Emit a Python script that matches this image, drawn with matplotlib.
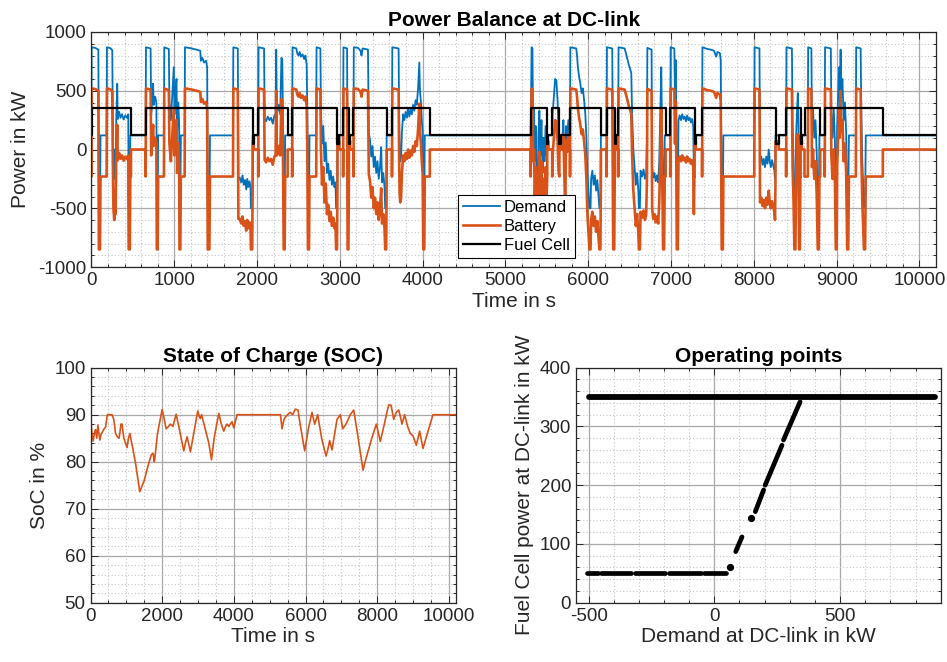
import matplotlib
matplotlib.use('Agg')
import matplotlib.pyplot as plt
from matplotlib.ticker import MultipleLocator

plt.rcParams['font.family'] = ['Liberation Sans', 'DejaVu Sans']
plt.rcParams['axes.unicode_minus'] = False

# ---------------- data: top panel (time s, power kW) ----------------
demand_pts = [
    (0, 120), (3, 870), (45, 865), (84, 850), (90, -500), (104, -500), (110, 120), (184, 120), (188, 870),
    (230, 862), (252, 845), (258, 280), (266, -150), (276, -250), (285, 0), (292, -200), (300, 250), (312, 560),
    (318, 260), (335, 320), (352, 270), (370, 300), (390, 255), (410, 290), (430, 270), (445, 300), (450, -500),
    (464, -500), (470, 120),
    (655, 120), (659, 870), (715, 860), (722, 300), (735, 420), (745, 560), (752, 380), (770, 450), (785, 400),
    (790, -500), (800, -500), (806, 120), (876, 120), (880, 870), (935, 855), (942, 400), (960, 250), (975, 450),
    (995, 700), (1003, 300), (1015, 500), (1028, 600), (1035, 150), (1050, 400), (1060, 200), (1064, -500),
    (1074, -500), (1080, 120), (1126, 120),
    (1130, 870), (1200, 862), (1270, 850), (1315, 840), (1322, 755), (1340, 780), (1360, 740), (1385, 755),
    (1398, 700), (1405, -500), (1425, -500), (1432, 120), (1710, 120),
    (1714, 870), (1768, 860), (1775, -240), (1790, -240), (1810, -280), (1825, -220), (1840, -300), (1855, -260),
    (1870, -340), (1882, -250), (1895, -320), (1910, -270), (1922, -330), (1926, -500), (1942, -500), (1948, 120),
    (2015, 120), (2019, 870), (2085, 860), (2092, 260), (2110, 240), (2130, 280), (2150, 250), (2170, 270),
    (2190, 220), (2210, 290), (2225, 300), (2232, 850), (2240, 300), (2260, 380), (2280, 300), (2295, 780),
    (2305, 760), (2315, 200), (2322, -500), (2334, -500), (2340, 120),
    (2425, 120), (2429, 870), (2475, 860), (2485, 820), (2500, 800), (2515, 830), (2530, 790), (2550, 810),
    (2570, 770), (2585, 800), (2600, 720), (2608, 300), (2615, -500), (2628, -500), (2634, 120), (2715, 120),
    (2719, 870), (2765, 860), (2772, 350), (2785, 50), (2800, 200), (2815, -100), (2830, 60), (2845, -200),
    (2860, -120), (2875, -260), (2890, -180), (2905, -300), (2920, -230), (2935, -320), (2948, -280),
    (2955, -500), (2966, -500), (2972, 120),
    (3040, 120), (3044, 870), (3088, 860), (3094, -500), (3104, -500), (3110, 120), (3165, 120), (3169, 870),
    (3220, 865), (3250, 840), (3262, 800), (3275, 860), (3340, 850), (3350, 140), (3365, 80), (3380, -60),
    (3395, 30), (3410, -150), (3425, -60), (3440, -200), (3455, -100), (3470, -250), (3485, -150), (3500, 20),
    (3510, -280), (3525, -200), (3540, -320), (3548, -500), (3560, -500), (3566, 120),
    (3630, 120), (3634, 870), (3710, 860), (3716, 300), (3722, -20), (3730, -100), (3740, -60), (3750, 150),
    (3765, 300), (3780, 250), (3795, 320), (3810, 270), (3825, 350), (3840, 280), (3855, 340), (3870, 300),
    (3885, 380), (3900, 330), (3915, 420), (3930, 380), (3945, 520), (3960, 740), (3968, 500), (3980, 400),
    (3990, 250), (4000, 150), (4008, -500), (4020, -500), (4026, 120),
    (5305, 120), (5316, 870), (5326, 860), (5334, 250), (5345, 350), (5355, -100), (5365, 200), (5375, -150),
    (5382, -500), (5392, -500), (5398, 100), (5410, 330), (5422, -50), (5435, 250), (5448, -200), (5460, 100),
    (5472, -100), (5485, 200), (5497, -50), (5505, 120), (5565, 120), (5570, 300), (5585, 450), (5600, 600),
    (5615, 590), (5630, 420), (5642, 150), (5652, 120), (5690, 120), (5700, 250), (5712, -100), (5722, -400),
    (5732, 200), (5745, 100), (5760, 250), (5776, 120),
    (5780, 120), (5784, 870), (5855, 860), (5865, 800), (5875, 700), (5890, 620), (5905, 560), (5920, 480),
    (5935, 520), (5950, 420), (5965, 300), (5978, 100), (5990, -200), (6005, -380), (6015, -500), (6028, -500),
    (6035, -250), (6050, -180), (6065, -300), (6080, -220), (6095, -350), (6110, -260), (6125, -400),
    (6135, -500), (6147, -500), (6153, 120), (6222, 120), (6226, 870), (6290, 860), (6296, 200), (6302, -500),
    (6314, -500), (6320, 120),
    (6362, 120), (6366, 870), (6440, 860), (6455, 820), (6470, 780), (6490, 720), (6505, 690), (6520, 650),
    (6530, 300), (6545, 0), (6560, -150), (6575, -300), (6590, -200), (6605, -350), (6612, -500), (6624, -500),
    (6632, -180), (6650, -230), (6668, -170), (6685, -250), (6700, -200), (6710, 120), (6714, 865), (6765, 850),
    (6772, -150), (6785, -240), (6800, -200), (6815, -270), (6830, -220), (6845, -280), (6858, -100),
    (6870, 300), (6882, 700), (6890, 250), (6898, -100), (6904, -500), (6916, -500), (6924, 120),
    (6991, 120), (6995, 870), (7040, 860), (7048, 400), (7058, 760), (7064, 200), (7070, -500), (7082, -500),
    (7090, 250), (7105, 290), (7120, 250), (7135, 300), (7150, 260), (7165, 280), (7180, 240), (7195, 290),
    (7210, 250), (7225, 270), (7240, 230), (7255, 260), (7268, 200), (7276, -200), (7282, 120),
    (7375, 120), (7379, 870), (7440, 855), (7480, 850), (7520, 840), (7545, 790), (7560, 830), (7590, 820),
    (7600, 760), (7612, -500), (7626, -500), (7632, 120),
    (8005, 120), (8009, 870), (8068, 860), (8075, -100), (8090, -60), (8105, -130), (8120, -80), (8135, -150),
    (8150, -60), (8165, -120), (8180, 0), (8192, -100), (8205, -150), (8220, -90), (8235, -140), (8248, -180),
    (8256, -250), (8262, 120),
    (8390, 120), (8394, 870), (8460, 860), (8468, 200), (8480, -100), (8490, -500), (8502, -500), (8510, 100),
    (8520, 300), (8531, 480), (8540, 200), (8546, -500), (8556, -500), (8562, 120), (8652, 120), (8656, 870),
    (8695, 860), (8702, 200), (8715, 350), (8730, 100), (8745, 250), (8760, -50), (8772, -500), (8784, -500),
    (8792, 120),
    (8856, 120), (8860, 870), (8930, 860), (8936, 300), (8950, 100), (8965, 350), (8980, 50), (8990, -500),
    (9000, -500), (9006, 200), (9020, 500), (9030, 700), (9038, 450), (9048, 850), (9056, 500), (9070, 600),
    (9085, 250), (9100, 400), (9115, 150), (9128, -500), (9140, -500), (9148, 120), (9232, 120), (9236, 870),
    (9290, 860), (9298, 300), (9310, -100), (9330, -500), (9344, -500), (9352, 120), (10200, 120),
]

battery_pts = [
    (0, 0), (2, 0), (2, -230), (3, 520), (45, 515), (84, 500), (90, -850), (104, -850), (110, -230), (184, -230),
    (188, 520), (230, 512), (252, 495), (258, -70), (266, -500), (276, -600), (285, -350), (292, -550),
    (300, -100), (312, 210), (318, -90), (335, -30), (352, -80), (370, -50), (390, -95), (410, -60), (430, -80),
    (445, -50), (450, -850), (464, -850), (470, -230), (478, -230), (478, 0),
    (655, 0), (655, -230), (659, 520), (715, 510), (722, -50), (735, 70), (745, 210), (752, 30), (770, 100),
    (785, 50), (790, -850), (800, -850), (806, -230), (876, -230), (880, 520), (935, 505), (942, 50), (960, -100),
    (975, 100), (995, 350), (1003, -50), (1015, 150), (1028, 250), (1035, -200), (1050, 50), (1060, -150),
    (1064, -850), (1074, -850), (1080, -230), (1126, -230),
    (1130, 520), (1200, 512), (1270, 500), (1315, 490), (1322, 405), (1340, 430), (1360, 390), (1385, 405),
    (1398, 350), (1405, -850), (1425, -850), (1432, -230), (1710, -230),
    (1714, 520), (1768, 510), (1775, -590), (1790, -590), (1810, -630), (1825, -570), (1840, -650), (1855, -610),
    (1870, -690), (1882, -600), (1895, -670), (1910, -620), (1922, -680), (1926, -850), (1942, -850),
    (1948, -230), (1948, 70), (1960, 70), (1960, 0), (2015, 0), (2015, -230), (2019, 520), (2085, 510),
    (2092, -90), (2110, -110), (2130, -70), (2150, -100), (2170, -80), (2190, -130), (2210, -60), (2225, -50),
    (2232, 500), (2240, -50), (2260, 30), (2280, -50), (2295, 430), (2305, 410), (2315, -150), (2322, -850),
    (2334, -850), (2340, -230), (2370, -230), (2370, 0),
    (2425, 0), (2425, -230), (2429, 520), (2475, 510), (2485, 470), (2500, 450), (2515, 480), (2530, 440),
    (2550, 460), (2570, 420), (2585, 450), (2600, 370), (2608, -50), (2615, -850), (2628, -850), (2634, -230),
    (2715, -230), (2719, 520), (2765, 510), (2772, 0), (2785, -300), (2800, -150), (2815, -450), (2830, -290),
    (2845, -550), (2860, -470), (2875, -610), (2890, -530), (2905, -650), (2920, -580), (2935, -670),
    (2948, -630), (2955, -850), (2966, -850), (2972, -230), (2972, 70), (2992, 70), (2992, 0),
    (3040, 0), (3040, -230), (3044, 520), (3088, 510), (3094, -850), (3104, -850), (3110, -230), (3110, 70),
    (3125, 70), (3125, 0), (3165, 0), (3165, -230), (3169, 520), (3220, 515), (3250, 490), (3262, 450),
    (3275, 510), (3340, 500), (3350, -210), (3365, -270), (3380, -410), (3395, -320), (3410, -500),
    (3425, -410), (3440, -550), (3455, -450), (3470, -600), (3485, -500), (3500, -330), (3510, -630),
    (3525, -550), (3540, -670), (3548, -850), (3560, -850), (3566, -230), (3566, 0),
    (3630, 0), (3630, -230), (3634, 520), (3710, 510), (3716, -50), (3722, -370), (3730, -450), (3740, -410),
    (3750, -200), (3765, -50), (3780, -100), (3795, -30), (3810, -80), (3825, 0), (3840, -70), (3855, -10),
    (3870, -50), (3885, 30), (3900, -20), (3915, 70), (3930, 30), (3945, 170), (3960, 390), (3968, 150),
    (3980, 50), (3990, -100), (4000, -200), (4008, -850), (4020, -850), (4026, -230), (4087, -230), (4087, 0),
    (5305, 0), (5305, -230), (5316, 520), (5326, 510), (5334, -100), (5345, 0), (5355, -450), (5365, -150),
    (5375, -500), (5382, -850), (5392, -850), (5398, -250), (5410, -20), (5422, -400), (5435, -100),
    (5448, -550), (5460, -250), (5472, -450), (5485, -150), (5497, -400), (5505, -230), (5505, 70), (5520, 70),
    (5520, 0), (5565, 0), (5565, -230), (5570, -50), (5585, 100), (5600, 250), (5615, 240), (5630, 70),
    (5642, -200), (5652, -230), (5652, 70), (5668, 70), (5668, 0), (5690, 0), (5700, 130), (5712, -220),
    (5722, -520), (5732, 80), (5745, -20), (5760, 130), (5776, 0), (5780, 0), (5780, -230),
    (5784, 520), (5855, 510), (5865, 450), (5875, 350), (5890, 270), (5905, 210), (5920, 130), (5935, 170),
    (5950, 70), (5965, -50), (5978, -250), (5990, -550), (6005, -730), (6015, -850), (6028, -850), (6035, -600),
    (6050, -530), (6065, -650), (6080, -570), (6095, -700), (6110, -610), (6125, -750), (6135, -850),
    (6147, -850), (6153, -230), (6153, 0), (6222, 0), (6222, -230), (6226, 520), (6290, 510), (6296, -150),
    (6302, -850), (6314, -850), (6320, -230), (6322, -230), (6322, 70), (6340, 70), (6340, 0), (6362, 0),
    (6362, -230),
    (6366, 520), (6440, 510), (6455, 470), (6470, 430), (6490, 370), (6505, 340), (6520, 300), (6530, -50),
    (6545, -350), (6560, -500), (6575, -650), (6590, -550), (6605, -700), (6612, -850), (6624, -850),
    (6632, -530), (6650, -580), (6668, -520), (6685, -600), (6700, -550), (6710, -230), (6714, 515),
    (6765, 500), (6772, -500), (6785, -590), (6800, -550), (6815, -620), (6830, -570), (6845, -630),
    (6858, -450), (6870, -50), (6882, 350), (6890, -100), (6898, -450), (6904, -850), (6916, -850),
    (6924, -230), (6935, -230), (6935, 0),
    (6991, 0), (6991, -230), (6995, 520), (7040, 510), (7048, 50), (7058, 410), (7064, -150), (7070, -850),
    (7082, -850), (7090, -100), (7105, -60), (7120, -100), (7135, -50), (7150, -90), (7165, -70), (7180, -110),
    (7195, -60), (7210, -100), (7225, -80), (7240, -120), (7255, -90), (7268, -150), (7276, -550), (7282, -230),
    (7285, -230), (7285, 70), (7300, 70), (7300, 0), (7375, 0), (7375, -230), (7379, 520), (7440, 505),
    (7480, 500), (7520, 490), (7545, 440), (7560, 480), (7590, 470), (7600, 410), (7612, -850), (7626, -850),
    (7632, -230),
    (8005, -230), (8009, 520), (8068, 510), (8075, -450), (8090, -410), (8105, -480), (8120, -430), (8135, -500),
    (8150, -410), (8165, -470), (8180, -350), (8192, -450), (8205, -500), (8220, -440), (8235, -490),
    (8248, -530), (8256, -600), (8262, -230), (8262, 70), (8300, 70), (8300, 0), (8390, 0), (8390, -230),
    (8394, 520), (8460, 510), (8468, -150), (8480, -450), (8490, -850), (8502, -850), (8510, -250), (8520, -50),
    (8531, 130), (8540, -150), (8546, -850), (8556, -850), (8562, -230), (8565, -230), (8565, 70), (8580, 70),
    (8580, 0), (8612, 0), (8612, -230), (8652, -230), (8656, 520), (8695, 510), (8702, -150), (8715, 0),
    (8730, -250), (8745, -100), (8760, -400), (8772, -850), (8784, -850), (8792, -230), (8802, -230), (8802, 0),
    (8856, 0), (8856, -230), (8860, 520), (8930, 510), (8936, -50), (8950, -250), (8965, 0), (8980, -300),
    (8990, -850), (9000, -850), (9006, -150), (9020, 150), (9030, 350), (9038, 100), (9048, 500), (9056, 150),
    (9070, 250), (9085, -100), (9100, 50), (9115, -200), (9128, -850), (9140, -850), (9148, -230), (9232, -230),
    (9236, 520), (9290, 510), (9298, -50), (9310, -450), (9330, -850), (9344, -850), (9352, -230), (9558, -230),
    (9558, 0), (10200, 0),
]

# fuel cell power, piecewise constant from each time on
fuelcell_pts = [
    (0, 120), (2, 350), (478, 120), (655, 350), (1948, 50), (1960, 120), (2015, 350), (2370, 120), (2425, 350),
    (2972, 50), (2992, 120), (3040, 350), (3110, 50), (3125, 120), (3165, 350), (3566, 120), (3630, 350),
    (4087, 120), (5305, 350), (5505, 50), (5520, 120), (5565, 350), (5652, 50), (5668, 120), (5780, 350),
    (6153, 120), (6222, 350), (6322, 50), (6340, 120), (6362, 350), (6935, 120), (6991, 350), (7285, 50),
    (7300, 120), (7375, 350), (8262, 50), (8300, 120), (8390, 350), (8565, 50), (8580, 120), (8612, 350),
    (8802, 120), (8856, 350), (9558, 120), (10200, 120),
]

# ---------------- data: state of charge (time s, %) ----------------
soc_pts = [
    (0, 89.5), (40, 86), (74, 84.4), (110, 86), (140, 86.8), (175, 85), (205, 87.8), (235, 86), (261, 84.6),
    (300, 86), (326, 86.2), (380, 87), (419, 87.3), (470, 90), (600, 90), (650, 89), (700, 86), (760, 85.2),
    (800, 85), (850, 88), (880, 88), (930, 85), (1020, 83), (1060, 85), (1100, 86), (1150, 84), (1250, 80),
    (1376, 73.6), (1420, 74.5), (1500, 76), (1600, 79), (1700, 81.5), (1745, 81.8), (1780, 80), (1800, 81),
    (1870, 86), (1999, 91.1), (2060, 89), (2110, 87), (2180, 87.5), (2231, 88), (2300, 87.5), (2389, 90.1),
    (2450, 88), (2603, 82.3), (2650, 84), (2696, 85.3), (2789, 82.1), (2880, 86), (2994, 90.8), (3040, 89.5),
    (3068, 89.2), (3100, 90), (3200, 87), (3300, 84), (3376, 80.4), (3450, 85), (3580, 90.3), (3650, 88),
    (3719, 86.5), (3770, 87.5), (3812, 88), (3860, 87.5), (3900, 88), (3950, 88.5), (3998, 87.2), (4091, 90),
    (5300, 90), (5345, 87), (5400, 89), (5438, 89.5), (5500, 90), (5577, 90.5), (5640, 90), (5717, 91.2),
    (5791, 91), (5850, 88), (5977, 82.3), (6080, 87), (6181, 90.5), (6256, 88), (6340, 90), (6450, 85),
    (6572, 81.2), (6620, 82.5), (6675, 84.5), (6740, 82.5), (6880, 89), (6973, 90), (7038, 87), (7130, 88),
    (7250, 90), (7345, 91), (7450, 86), (7605, 78.2), (7700, 81), (7850, 85), (7977, 88), (8088, 84.3),
    (8200, 88), (8320, 92.1), (8390, 92), (8460, 89), (8530, 90.5), (8600, 91), (8650, 89.5), (8693, 88),
    (8767, 90), (8850, 87.5), (8925, 86), (9000, 85.5), (9092, 83.5), (9185, 86.5), (9278, 82.8), (9400, 86),
    (9557, 90), (10200, 90),
]

# ---------------- data: operating points (demand kW, fuel cell kW) ----------------
op_hi_level = 350
op_hi_runs = [(-500, 878)]
op_lo_level = 50
op_lo_runs = [(-505, -462), (-450, -330), (-316, -195), (-180, -55), (-42, 45)]
op_ramp_runs = [((85, 87), (110, 112)), ((163, 155), (196, 192)), ((202, 200), (269, 268)),
                ((275, 277), (341, 342))]
op_ramp_dots = [(63, 61), (147, 144)]

C_BLUE = '#0072BD'
C_ORANGE = '#D95319'
TXT = '#262626'

W, H = 947, 662
fig = plt.figure(figsize=(W / 100, H / 100), dpi=100)


def box(l, t, r, b):
    return [l / W, 1 - b / H, (r - l) / W, (b - t) / H]


ax1 = fig.add_axes(box(91.4, 32, 936, 267))
ax2 = fig.add_axes(box(90.5, 367.7, 456, 602.7))
ax3 = fig.add_axes(box(576, 367.7, 940.7, 602.7))


def style(ax, xmaj, xmin, ymaj, ymin):
    ax.xaxis.set_major_locator(MultipleLocator(xmaj))
    ax.xaxis.set_minor_locator(MultipleLocator(xmin))
    ax.yaxis.set_major_locator(MultipleLocator(ymaj))
    ax.yaxis.set_minor_locator(MultipleLocator(ymin))
    ax.set_axisbelow(True)
    ax.grid(True, which='major', color='#a8a8a8', lw=0.9, ls='-')
    ax.grid(True, which='minor', color='#c4c4c4', lw=0.8, ls=(0, (1, 2)))
    ax.tick_params(which='both', direction='in', top=True, right=True, colors=TXT,
                   labelsize=13.5, width=0.7)
    ax.tick_params(which='major', length=5)
    ax.tick_params(which='minor', length=2.5)
    for s in ax.spines.values():
        s.set_color(TXT)
        s.set_linewidth(0.9)


# top panel
dt, dv = zip(*demand_pts)
bt, bv = zip(*battery_pts)
ft, fv = zip(*fuelcell_pts)
ax1.plot(dt, dv, color=C_BLUE, lw=1.3, label='Demand')
ax1.plot(bt, bv, color=C_ORANGE, lw=1.9, label='Battery')
ax1.plot(ft, fv, color='k', lw=1.6, drawstyle='steps-post', label='Fuel Cell')
ax1.set_xlim(0, 10200)
ax1.set_ylim(-1000, 1000)
style(ax1, 1000, 200, 500, 100)
ax1.set_title('Power Balance at DC-link', fontsize=15, fontweight='bold', color='k', pad=4)
ax1.set_xlabel('Time in s', fontsize=15, color=TXT, labelpad=2)
ax1.set_ylabel('Power in kW', fontsize=15, color=TXT, labelpad=6)
leg = ax1.legend(loc='lower left', bbox_to_anchor=(0.434, 0.038), fontsize=12, frameon=True,
                 fancybox=False, edgecolor='k', framealpha=1, borderpad=0.3, labelspacing=0.25,
                 handlelength=2.2, handletextpad=0.25, borderaxespad=0)
leg.get_frame().set_linewidth(0.8)

# SOC panel
st, sv = zip(*soc_pts)
ax2.plot(st, sv, color=C_ORANGE, lw=1.2)
ax2.set_xlim(0, 10200)
ax2.set_ylim(50, 100)
style(ax2, 2000, 500, 10, 2)
ax2.set_title('State of Charge (SOC)', fontsize=15, fontweight='bold', color='k', pad=4)
ax2.set_xlabel('Time in s', fontsize=15, color=TXT, labelpad=2)
ax2.set_ylabel('SoC in %', fontsize=15, color=TXT, labelpad=4)

# operating points panel
for x0, x1 in op_hi_runs:
    ax3.plot([x0, x1], [op_hi_level, op_hi_level], color='k', lw=4.2, solid_capstyle='round')
for x0, x1 in op_lo_runs:
    ax3.plot([x0, x1], [op_lo_level, op_lo_level], color='k', lw=3.4, solid_capstyle='round')
for (x0, y0), (x1, y1) in op_ramp_runs:
    ax3.plot([x0, x1], [y0, y1], color='k', lw=3.4, solid_capstyle='round')
rx, ry = zip(*op_ramp_dots)
ax3.plot(rx, ry, 'o', color='k', ms=4.2)
ax3.set_xlim(-550, 900)
ax3.set_ylim(0, 400)
style(ax3, 500, 100, 100, 20)
ax3.set_title('Operating points', fontsize=15, fontweight='bold', color='k', pad=4)
ax3.set_xlabel('Demand at DC-link in kW', fontsize=15, color=TXT, labelpad=2)
ax3.set_ylabel('Fuel Cell power at DC-link in kW', fontsize=15, color=TXT, labelpad=4)

fig.savefig('out.png', dpi=100)
